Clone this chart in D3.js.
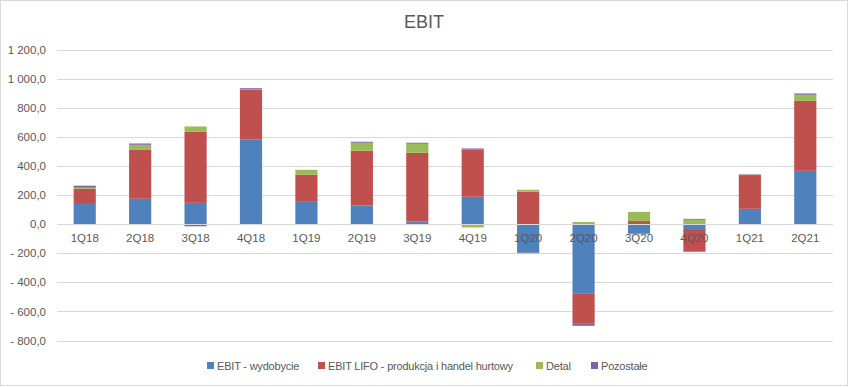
<!DOCTYPE html>
<html>
<head>
<meta charset="utf-8">
<script src="https://cdn.jsdelivr.net/npm/d3@7"></script>
<style>
  body { margin: 0; background: #fff; }
  text { font-family: 'Liberation Sans', Arial, sans-serif; fill: #595959; }
</style>
</head>
<body>
<div id="chart"></div>
<script>
const w = 849;
const h = 387;

// data
const quarters = ['1Q18', '2Q18', '3Q18', '4Q18', '1Q19', '2Q19', '3Q19', '4Q19', '1Q20', '2Q20', '3Q20', '4Q20', '1Q21', '2Q21'];
const wydobycie = [145, 174, 146, 581, 153, 128, 18, 188, -197, -479, -65, -34, 105, 366];
const produkcja = [97, 339, 490, 344, 186, 376, 472, 325, 222, -206, 21, -156, 232, 481];
const detal = [8, 32, 35, 2, 34, 55, 62, -23, 14, 15, 63, 30, 0, 42];
const pozostale = [14, 9, -15, 7, 0, 7, 7, 7, -3, -14, -5, 6, 4, 9];
const yTicks = [-800, -600, -400, -200, 0, 200, 400, 600, 800, 1000, 1200];

const seriesNames = ['EBIT - wydobycie', 'EBIT LIFO - produkcja i handel hurtowy', 'Detal', 'Pozostałe'];
const colors = ['#4f81bd', '#c0504d', '#9bbb59', '#8064a2'];

const rows = quarters.map((q, i) => ({
  q: q,
  s0: wydobycie[i],
  s1: produkcja[i],
  s2: detal[i],
  s3: pozostale[i]
}));

const stacked = d3
  .stack()
  .keys(['s0', 's1', 's2', 's3'])
  .offset(d3.stackOffsetDiverging)(rows);

const x = d3.scaleBand().domain(quarters).range([57, 833]).paddingInner(0.6).paddingOuter(0.3);
const y = d3.scaleLinear().domain([-800, 1200]).range([340.5, 49.5]);

const pl = d3.formatLocale({ decimal: ',', thousands: ' ', grouping: [3], currency: ['', ''] });
const fmt = pl.format(',.1f');
const tickFmt = (d) => (d < 0 ? '- ' + fmt(-d) : fmt(d));

const svg = d3.select('#chart').append('svg').attr('width', w).attr('height', h);

svg
  .append('rect')
  .attr('x', 0.5)
  .attr('y', 0.5)
  .attr('width', w - 2)
  .attr('height', h - 2)
  .attr('fill', '#fff')
  .attr('stroke', '#d9d9d9');

svg
  .append('text')
  .attr('x', 424)
  .attr('y', 28)
  .attr('text-anchor', 'middle')
  .style('font-size', '18px')
  .text('EBIT');

// y axis + gridlines
const yAxis = svg
  .append('g')
  .attr('transform', 'translate(57,0)')
  .call(d3.axisLeft(y).tickValues(yTicks).tickFormat(tickFmt).tickSize(-776).tickPadding(11));
yAxis.select('.domain').remove();
yAxis.selectAll('line').attr('stroke', '#d9d9d9').attr('shape-rendering', 'crispEdges');
yAxis.selectAll('text').style('font-size', '11.5px').style('fill', '#595959');

// bars
svg
  .append('g')
  .selectAll('g')
  .data(stacked)
  .join('g')
  .attr('fill', (d, i) => colors[i])
  .selectAll('rect')
  .data((d) => d)
  .join('rect')
  .attr('x', (d) => x(d.data.q))
  .attr('width', x.bandwidth())
  .attr('y', (d) => y(Math.max(d[0], d[1])))
  .attr('height', (d) => Math.abs(y(d[0]) - y(d[1])));

// zero line
svg
  .append('line')
  .attr('x1', 57)
  .attr('x2', 833)
  .attr('y1', y(0))
  .attr('y2', y(0))
  .attr('stroke', '#d9d9d9')
  .attr('shape-rendering', 'crispEdges');

// category labels
const xAxis = svg
  .append('g')
  .attr('transform', `translate(0,${y(0)})`)
  .call(d3.axisBottom(x).tickSize(0).tickPadding(10));
xAxis.select('.domain').remove();
xAxis.selectAll('text').style('font-size', '11.5px').style('fill', '#595959');

// legend
const legendX = [207, 318, 536, 591];
const legend = svg
  .append('g')
  .selectAll('g')
  .data(seriesNames)
  .join('g')
  .attr('transform', (d, i) => `translate(${legendX[i]},362)`);
legend
  .append('rect')
  .attr('width', 7)
  .attr('height', 7)
  .attr('fill', (d, i) => colors[i]);
legend
  .append('text')
  .attr('x', 10)
  .attr('y', 8)
  .style('font-size', '11px')
  .style('letter-spacing', '-0.2px')
  .text((d) => d);
</script>
</body>
</html>
